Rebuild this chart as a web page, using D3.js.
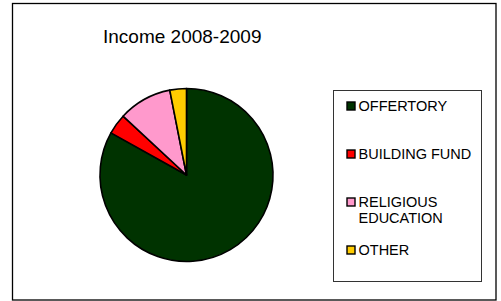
<!DOCTYPE html>
<html lang="en">
<head>
    <meta charset="UTF-8" />
    <title>Income 2008-2009</title>
    <style>
        body, html {
            margin: 0;
            padding: 0;
            background-color: white;
        }
        svg text {
            font-family: "Liberation Sans", Arial, sans-serif;
            fill: black;
        }
    </style>
</head>
<body>
    <svg id="svg" width="501" height="301"></svg>
    <script src="https://cdn.jsdelivr.net/npm/d3@7"></script>
    <script>
        // data (percent of total)
        const categories = ["OFFERTORY", "BUILDING FUND", "RELIGIOUS EDUCATION", "OTHER"];
        const values = [83.1, 3.8, 10.0, 3.1];
        const legendLines = [["OFFERTORY"], ["BUILDING FUND"], ["RELIGIOUS", "EDUCATION"], ["OTHER"]];
        const colors = ["#003300", "#ff0000", "#ff99cc", "#ffcc00"];

        const svg = d3.select("#svg");

        // outer frame
        svg.append("rect")
            .attr("x", 12.5).attr("y", 3.5)
            .attr("width", 483.5).attr("height", 296.5)
            .attr("fill", "white")
            .attr("stroke", "black")
            .attr("stroke-width", 1.3);

        svg.append("text")
            .attr("x", 103)
            .attr("y", 42.5)
            .style("font-size", "19px")
            .text("Income 2008-2009");

        const color = d3.scaleOrdinal().domain(categories).range(colors);

        const pie = d3.pie().sort(null).value((d) => d.value);
        const arc = d3.arc().innerRadius(0).outerRadius(86.5);

        const data = categories.map((c, i) => ({ name: c, value: values[i] }));

        const g = svg.append("g")
            .attr("transform", "translate(186.5,175)");

        g.selectAll("path")
            .data(pie(data))
            .enter()
            .append("path")
            .attr("d", arc)
            .attr("fill", (d) => color(d.data.name))
            .attr("stroke", "black")
            .attr("stroke-width", 1.6)
            .attr("stroke-linejoin", "round");

        // legend
        svg.append("rect")
            .attr("x", 333.5).attr("y", 90.5)
            .attr("width", 148).attr("height", 191)
            .attr("fill", "white")
            .attr("stroke", "#333")
            .attr("stroke-width", 1);

        const legendY = d3.scalePoint().domain(categories).range([110.5, 254.5]);

        const items = svg.selectAll(".legend")
            .data(categories)
            .enter()
            .append("g")
            .attr("class", "legend")
            .attr("transform", (d) => `translate(0,${legendY(d)})`);

        items.append("rect")
            .attr("x", 347).attr("y", -8.5)
            .attr("width", 8).attr("height", 8)
            .attr("fill", (d) => color(d))
            .attr("stroke", "black")
            .attr("stroke-width", 1.4);

        items.each(function (d, i) {
            const t = d3.select(this).append("text")
                .attr("x", 358.5)
                .attr("y", 0)
                .style("font-size", "14.5px");
            legendLines[i].forEach((line, j) => {
                t.append("tspan")
                    .attr("x", 358.5)
                    .attr("dy", j === 0 ? 0 : 16)
                    .text(line);
            });
        });
    </script>
</body>
</html>
